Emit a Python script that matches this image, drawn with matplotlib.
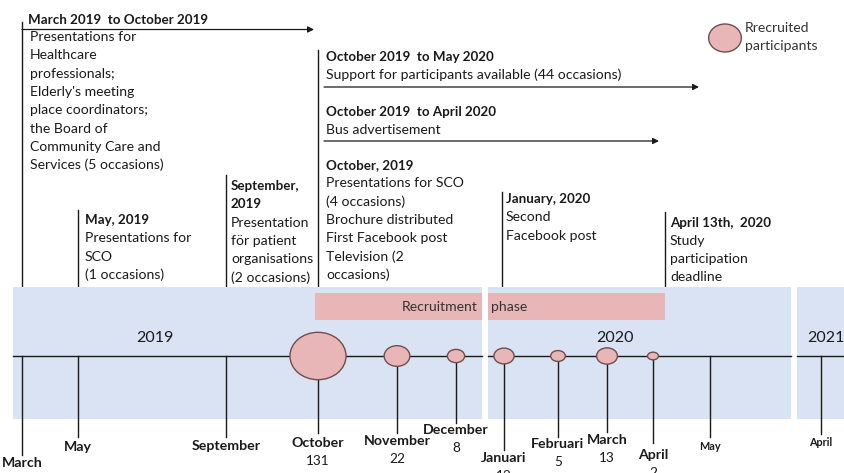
import numpy as np
import matplotlib
matplotlib.use("Agg")
import matplotlib.pyplot as plt
from matplotlib.patches import Ellipse, Rectangle

# ---------------- data ----------------
months = ["March", "May", "September", "October", "November", "December",
          "Januari", "Februari", "March", "April", "May", "April"]
years = [2019, 2019, 2019, 2019, 2019, 2019, 2020, 2020, 2020, 2020, 2020, 2021]
recruited = [0, 0, 0, 131, 22, 8, 12, 5, 13, 2, 0, 0]
year_labels = ["2019", "2020", "2021"]

# ---------------- layout (pixel coordinates) ----------------
month_x = [22, 78, 226, 318, 397, 456, 504, 558, 607, 653, 710, 821]
label_y = [463, 447, 446, 443, 441, 430, 458, 444, 440, 455, 446, 442]
line_end = [455, 437, 437, 433, 433, 423, 450, 437, 432, 443, 437, 434]
label_size = [10.2] * 10 + [7.8, 7.8]
year_x = [155, 615, 826]

W, H = 844, 473
fig = plt.figure(figsize=(W / 100, H / 100), dpi=100)
ax = fig.add_axes([0, 0, 1, 1])
ax.set_xlim(0, W)
ax.set_ylim(H, 0)
ax.axis("off")

FONT = "Lato"
BAND = "#dae3f3"
PINK = "#e8b6b6"
EDGE = "#6e4e4e"
LINE = "#1a1a1a"
TY = 356  # timeline y
BODY = 10.1
BOLD = 9.6

def txt(x, y, s, bold=False, size=None, ha="left", color="#1a1a1a", z=5):
    if size is None:
        size = BOLD if bold else BODY
    ax.text(x, y, s, fontsize=size, fontweight="bold" if bold else "normal",
            ha=ha, va="center", color=color, family=FONT, zorder=z)

def block(x, y, title_lines, body_lines, step=18.3):
    yy = y
    for t in title_lines:
        txt(x, yy, t, bold=True)
        yy += step
    for b in body_lines:
        txt(x, yy, b)
        yy += step

# ---------------- annotation lines (behind band) ----------------
ann_lines = [(22, 22), (78, 210), (226, 175), (318, 50), (502, 192), (665, 212)]
for lx, ly in ann_lines:
    ax.plot([lx, lx], [ly, 290], color=LINE, lw=1.0, zorder=1)

def arrow(x0, x1, y):
    ax.annotate("", xy=(x1, y), xytext=(x0, y),
                arrowprops=dict(arrowstyle="-|>", color=LINE, lw=0.9,
                                mutation_scale=9, shrinkA=0, shrinkB=0), zorder=4)

arrow(22, 314, 29.5)
arrow(324, 699, 87)
arrow(324, 659, 141)

# text blocks
txt(28, 20, "March 2019  to October 2019", bold=True)
block(30, 37, [], ["Presentations for", "Healthcare", "professionals;",
                   "Elderly's meeting", "place coordinators;", "the Board of",
                   "Community Care and", "Services (5 occasions)"])
txt(326, 57, "October 2019  to May 2020", bold=True)
txt(326, 74.5, "Support for participants available (44 occasions)")
txt(326, 112, "October 2019  to April 2020", bold=True)
txt(326, 129.5, "Bus advertisement")
block(326, 165, ["October, 2019"], ["Presentations for SCO", "(4 occasions)",
                                     "Brochure distributed", "First Facebook post",
                                     "Television (2", "occasions)"])
block(231, 186, ["September,", "2019"], ["Presentation", "för patient",
                                        "organisations", "(2 occasions)"])
block(85, 220, ["May, 2019"], ["Presentations for", "SCO", "(1 occasions)"])
block(506, 199, ["January, 2020"], ["Second", "Facebook post"])
block(670, 222.5, ["April 13th,  2020"], ["Study", "participation", "deadline"])

# ---------------- bands ----------------
bands = [(13, 482), (488, 791), (797, 850)]
for bx0, bx1 in bands:
    ax.add_patch(Rectangle((bx0, 287), bx1 - bx0, 132, facecolor=BAND,
                           edgecolor="none", zorder=2))
    ax.plot([bx0, min(bx1, W)], [TY, TY], color=LINE, lw=1.0, zorder=3)

# recruitment phase
for rx0, rx1 in [(315, 482), (488, 665)]:
    ax.add_patch(Rectangle((rx0, 293), rx1 - rx0, 27, facecolor=PINK,
                           edgecolor="none", zorder=3))
txt(478, 307, "Recruitment", ha="right", color="#333333")
txt(491, 307, "phase", color="#333333")

for yl, yx in zip(year_labels, year_x):
    txt(yx, 338, yl, size=11.5, ha="center")

# ---------------- month ticks, bubbles, labels ----------------
def bubble_w(v):
    return 4.6 + 4.5 * np.sqrt(v)

for m, x, v, ly, le, fs in zip(months, month_x, recruited, label_y, line_end, label_size):
    ax.plot([x, x], [TY, le], color=LINE, lw=1.0, zorder=3)
    txt(x, ly, m, bold=True, size=fs, ha="center")
    if v > 0:
        w = bubble_w(v)
        h = 0.88 * w - 2
        ax.add_patch(Ellipse((x, TY), w, h, facecolor=PINK, edgecolor=EDGE,
                             lw=1.0, zorder=4))
        txt(x, ly + 18, str(v), size=9.8, ha="center")

# legend
ax.add_patch(Ellipse((725, 38), bubble_w(39), 28, facecolor=PINK, edgecolor=EDGE,
                     lw=1.0, zorder=4))
txt(745, 28, "Rrecruited", color="#333333")
txt(745, 45.5, "participants", color="#333333")

fig.savefig("out.png", dpi=100)
